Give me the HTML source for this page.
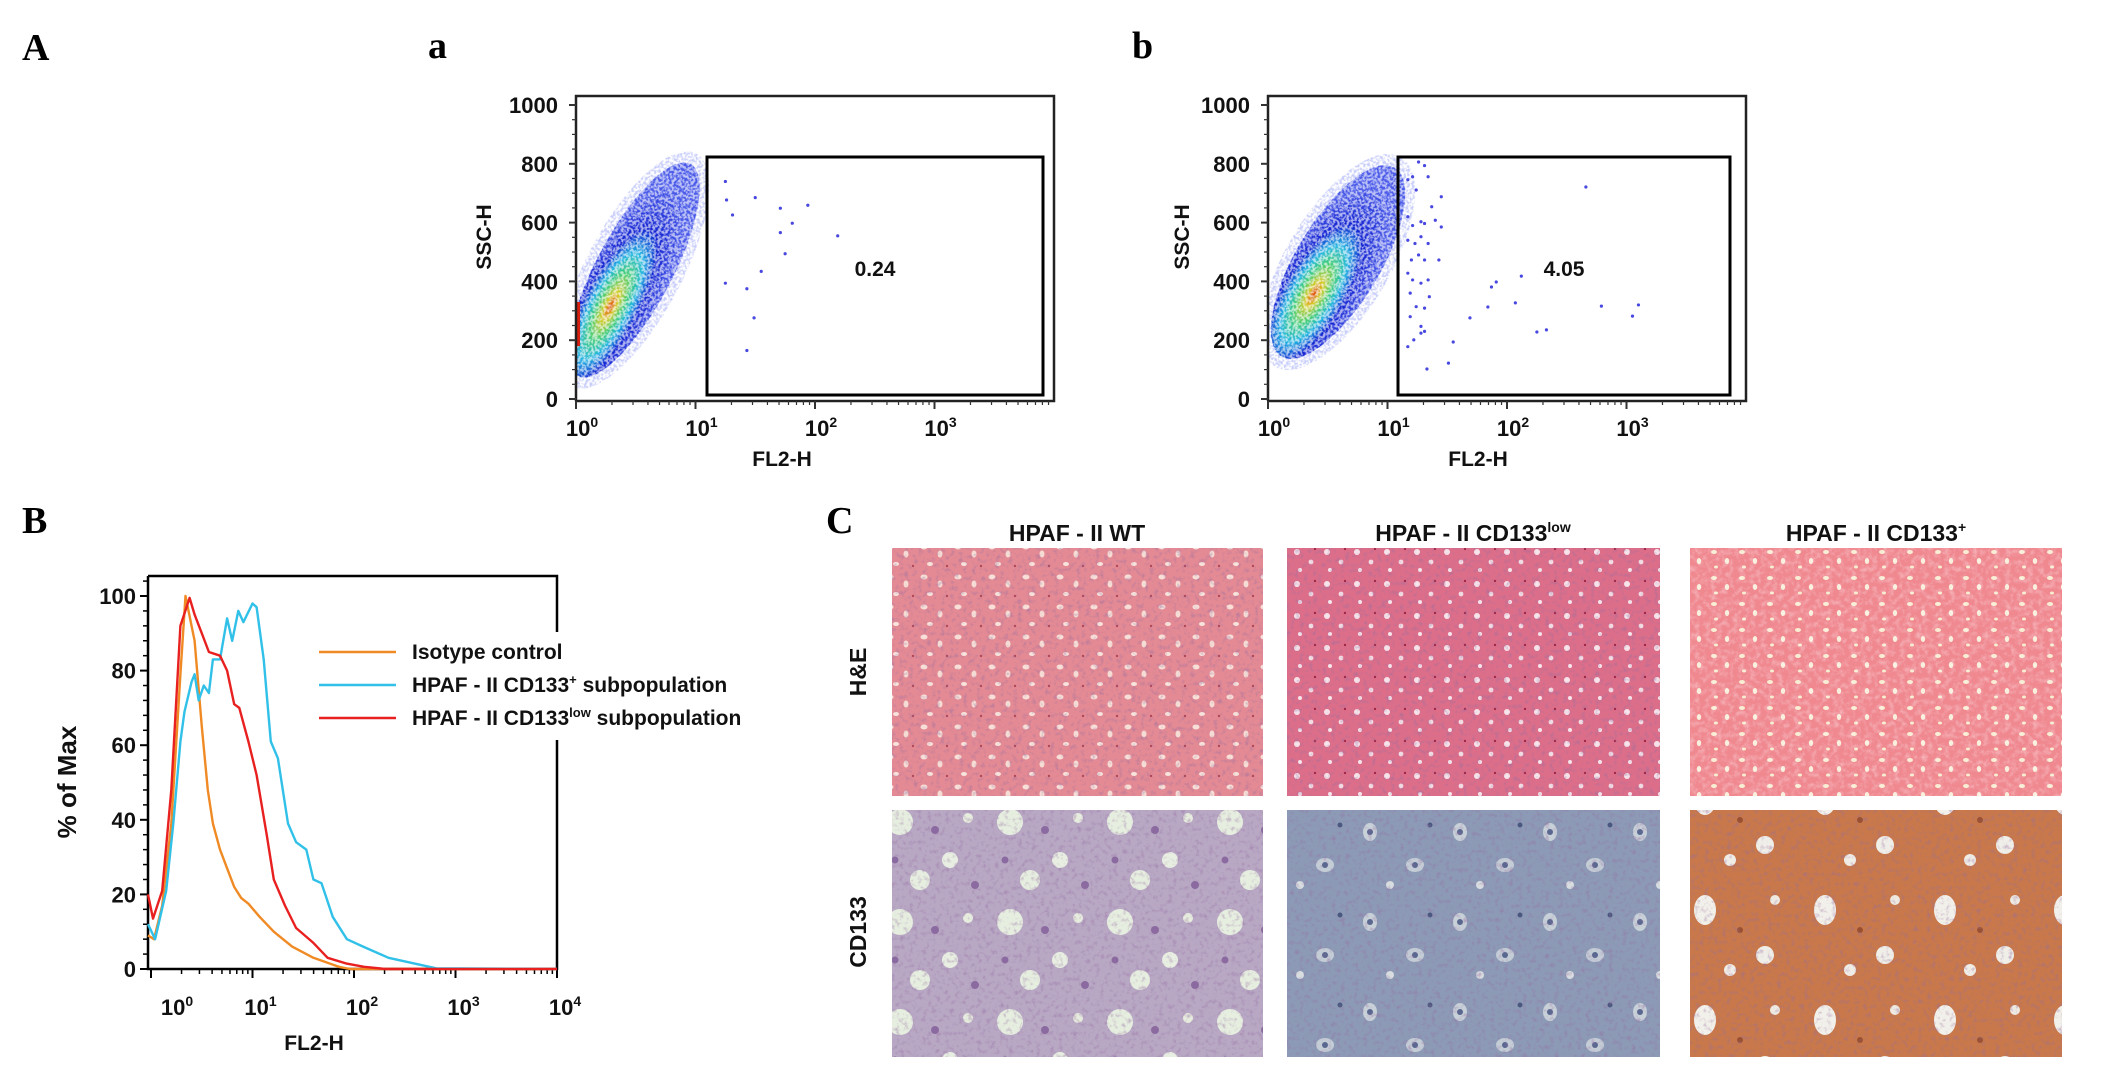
<!DOCTYPE html>
<html><head><meta charset="utf-8"><style>
html,body{margin:0;padding:0;background:#fff;width:2126px;height:1071px;overflow:hidden}
svg{display:block}
.lab{font-family:"Liberation Serif",serif;font-weight:bold;font-size:38px}
.tk{font-family:"Liberation Sans Narrow","Liberation Sans",sans-serif;font-weight:bold;font-size:22px;fill:#111}
.at{font-family:"Liberation Sans",sans-serif;font-weight:bold;font-size:21px;fill:#111}
.lg{font-family:"Liberation Sans",sans-serif;font-weight:bold;font-size:21px;fill:#111}
.ti{font-family:"Liberation Sans",sans-serif;font-weight:bold;font-size:23px;fill:#111}
</style></head><body>
<svg id="fig" width="2126" height="1071" viewBox="0 0 2126 1071" xmlns="http://www.w3.org/2000/svg">
<defs>
 <filter id="speck" x="0" y="0" width="100%" height="100%">
  <feTurbulence type="fractalNoise" baseFrequency="0.4" numOctaves="2" seed="3" result="n"/>
  <feColorMatrix in="n" type="matrix" values="0 0 0 0 1  0 0 0 0 1  0 0 0 0 1  0 0 0 -4 2.4" result="m"/>
  <feComposite in="SourceGraphic" in2="m" operator="in"/>
 </filter>
 <filter id="tex" x="0" y="0" width="100%" height="100%">
  <feTurbulence type="fractalNoise" baseFrequency="0.18" numOctaves="3" seed="7" result="n"/>
  <feColorMatrix in="n" type="matrix" values="0 0 0 0 1  0 0 0 0 1  0 0 0 0 1  0 0 0 1.2 -0.5"/>
 </filter>
 <filter id="texd" x="0" y="0" width="100%" height="100%">
  <feTurbulence type="fractalNoise" baseFrequency="0.22" numOctaves="3" seed="11" result="n"/>
  <feColorMatrix in="n" type="matrix" values="0 0 0 0 0.3  0 0 0 0 0.15  0 0 0 0 0.35  0 0 0 1.2 -0.6"/>
 </filter>
 <radialGradient id="cloudG" cx="0.45" cy="0.68" r="0.55">
  <stop offset="0" stop-color="#e85010"/>
  <stop offset="0.12" stop-color="#d8d020"/>
  <stop offset="0.28" stop-color="#40d070"/>
  <stop offset="0.45" stop-color="#20b8e0"/>
  <stop offset="0.65" stop-color="#1020d0"/>
  <stop offset="1" stop-color="#4858e8"/>
 </radialGradient>
 <pattern id="heA" width="34" height="30" patternUnits="userSpaceOnUse"><ellipse cx="6" cy="7" rx="3.5" ry="2.5" fill="#f8e0d8"/><ellipse cx="22" cy="14" rx="2.5" ry="3.5" fill="#f5dcd4"/><ellipse cx="12" cy="24" rx="3" ry="2" fill="#f8e4dc"/><circle cx="29" cy="26" r="1.2" fill="#b04858"/></pattern>
 <pattern id="heB" width="30" height="32" patternUnits="userSpaceOnUse"><circle cx="7" cy="8" r="3" fill="#f6e4ea"/><circle cx="21" cy="18" r="2.4" fill="#f2dce4"/><circle cx="10" cy="26" r="2" fill="#f6e6ec"/><circle cx="25" cy="5" r="1.2" fill="#a02848"/></pattern>
 <pattern id="heC" width="28" height="26" patternUnits="userSpaceOnUse"><ellipse cx="6" cy="6" rx="3" ry="2" fill="#f8eed4"/><ellipse cx="19" cy="15" rx="2.2" ry="3" fill="#f8f0dc"/><ellipse cx="8" cy="21" rx="2" ry="1.5" fill="#f6eed0"/></pattern>
 <pattern id="cdA" width="110" height="100" patternUnits="userSpaceOnUse"><circle cx="20" cy="22" r="13" fill="#e6eee0"/><circle cx="70" cy="60" r="8" fill="#e8efe2"/><circle cx="88" cy="18" r="5" fill="#e6ecde"/><circle cx="40" cy="80" r="10" fill="#e6eee0"/><circle cx="55" cy="30" r="4" fill="#8a6aa0"/><circle cx="95" cy="85" r="4" fill="#8a6aa0"/><circle cx="15" cy="60" r="3.5" fill="#8a6aa0"/></pattern>
 <pattern id="cdB" width="90" height="90" patternUnits="userSpaceOnUse"><ellipse cx="20" cy="22" rx="7" ry="9" fill="#c8d0d8"/><circle cx="20" cy="22" r="3" fill="#5a6890"/><ellipse cx="65" cy="55" rx="9" ry="7" fill="#c4ccd6"/><circle cx="65" cy="55" r="3" fill="#5a6890"/><circle cx="40" cy="75" r="4" fill="#d8dde0"/><circle cx="80" cy="15" r="2.5" fill="#4a5880"/></pattern>
 <pattern id="cdC" width="120" height="110" patternUnits="userSpaceOnUse"><ellipse cx="25" cy="30" rx="11" ry="15" fill="#f2f0ea"/><circle cx="85" cy="75" r="9" fill="#f0eee8"/><circle cx="95" cy="20" r="5" fill="#eeeae2"/><circle cx="50" cy="90" r="6" fill="#f0ece6"/><circle cx="60" cy="50" r="3" fill="#9a5030"/></pattern>
</defs>

<text class="lab" x="22" y="60">A</text>
<text class="lab" x="428" y="58">a</text>
<text class="lab" x="1132" y="58">b</text>
<text class="lab" x="22" y="533">B</text>
<text class="lab" x="826" y="533">C</text>

<g id="scatA"></g>
<g id="scatB"></g>
<g id="hist"></g>

<g>
 <text class="ti" x="1077" y="541" text-anchor="middle">HPAF - II WT</text>
 <text class="ti" x="1473" y="541" text-anchor="middle">HPAF - II CD133<tspan font-size="14" dy="-9">low</tspan></text>
 <text class="ti" x="1876" y="541" text-anchor="middle">HPAF - II CD133<tspan font-size="14" dy="-9">+</tspan></text>
 <text class="ti" transform="translate(866,672) rotate(-90)" text-anchor="middle">H&amp;E</text>
 <text class="ti" transform="translate(866,932) rotate(-90)" text-anchor="middle">CD133</text>
 <g><rect x="892" y="548" width="371" height="248" fill="#e48a94"/><rect x="892" y="548" width="371" height="248" fill="url(#heA)"/><rect x="892" y="548" width="371" height="248" filter="url(#texd)"/></g>
 <g><rect x="1287" y="548" width="373" height="248" fill="#dc6e8a"/><rect x="1287" y="548" width="373" height="248" fill="url(#heB)"/><rect x="1287" y="548" width="373" height="248" filter="url(#texd)"/></g>
 <g><rect x="1690" y="548" width="372" height="248" fill="#f08890"/><rect x="1690" y="548" width="372" height="248" fill="url(#heC)"/><rect x="1690" y="548" width="372" height="248" filter="url(#tex)" opacity="0.6"/></g>
 <g><rect x="892" y="810" width="371" height="247" fill="#b8a8c4"/><rect x="892" y="810" width="371" height="247" fill="url(#cdA)"/><rect x="892" y="810" width="371" height="247" filter="url(#texd)"/></g>
 <g><rect x="1287" y="810" width="373" height="247" fill="#8c9ab6"/><rect x="1287" y="810" width="373" height="247" fill="url(#cdB)"/><rect x="1287" y="810" width="373" height="247" filter="url(#texd)"/></g>
 <g><rect x="1690" y="810" width="372" height="247" fill="#c8784a"/><rect x="1690" y="810" width="372" height="247" fill="url(#cdC)"/><rect x="1690" y="810" width="372" height="247" filter="url(#texd)"/></g>
</g>
</svg>
<script>
// ---------- Histogram data (x = log10 FL2-H, y = % of Max) ----------
const isoX  = [-0.03,0.03,0.11,0.20,0.29,0.34,0.43,0.50,0.56,0.61,0.68,0.75,0.82,0.89,0.96,1.07,1.21,1.39,1.60,1.85,1.96,4.0];
const isoY  = [9,8,17,39,79,100,88,65,48,39,32,27,22,19,17.5,14,10,6,3,0.6,0,0];
const lowX  = [-0.03,0.02,0.11,0.20,0.29,0.38,0.43,0.50,0.57,0.68,0.75,0.82,0.87,0.96,1.04,1.14,1.21,1.32,1.43,1.60,1.74,1.92,2.10,2.31,4.0];
const lowY  = [20,13.5,21,48,92,99.5,95,90,85,84,80,71,70,61,52,36,24,17,11,7,3,1.5,0.6,0,0];
const posX  = [-0.03,0.04,0.15,0.22,0.29,0.33,0.40,0.43,0.47,0.52,0.57,0.61,0.68,0.75,0.80,0.86,0.91,1.00,1.04,1.11,1.18,1.25,1.35,1.43,1.53,1.60,1.68,1.79,1.93,2.09,2.34,2.81,4.0];
const posY  = [12,8,21,39,61,69,77,79,72,76,74,83,83,94,88,96,93,98,97,83,61,56.5,39,34,32,24,23,14,8,6,3,0.2,0];
const histYTicks = [0,20,40,60,80,100];
const histXDecades = [0,1,2,3,4];
const legendLabels = ["Isotype control","HPAF - II CD133","HPAF - II CD133"];
const legendSups = ["","+","low"];
const legendColors = ["#f08a24","#30c0e8","#e82020"];

// ---------- Scatter data (x = log10 FL2-H, y = SSC-H) ----------
const gateAX = [1.25,1.26,1.31,1.50,1.71,1.81,1.94,1.71,1.75,2.19,1.55,1.25,1.43,1.49,1.43];
const gateAY = [740,677,626,685,649,598,659,566,494,555,434,394,375,276,165];
const gateBX = [2.66,2.12,1.91,1.87,1.84,2.07,2.25,2.33,2.79,3.10,3.05,1.69,1.55,1.51,1.33,
  1.17,1.21,1.26,1.31,1.34,1.24,1.17,1.21,1.28,1.31,1.37,1.45,1.40,1.45,1.17,1.23,1.28,1.34,1.20,1.26,1.31,1.43,1.17,1.21,1.28,1.34,1.19,1.24,1.31,1.35,1.19,1.28,1.22,1.28,1.17,1.31];
const gateBY = [721,418,398,381,313,327,228,235,316,320,282,276,194,122,102,
  746,756,806,794,756,711,620,590,603,597,654,688,608,585,540,529,552,529,473,490,473,473,428,405,394,405,360,314,309,348,280,247,201,224,178,230];
const gatePctA = "0.24", gatePctB = "4.05";
const ssTicks = [0,200,400,600,800,1000];
const ssDecades = [0,1,2,3];

const NS="http://www.w3.org/2000/svg";
function mk(tag,attrs,parent){const e=document.createElementNS(NS,tag);for(const k in attrs)e.setAttribute(k,attrs[k]);parent.appendChild(e);return e;}

(function(){
 const g=document.getElementById('hist');
 const X0=151, DEC=101.5, Y0=969, PY=3.73, L=148, R=557, T=576;
 const xs=l=>X0+l*DEC, ys=v=>Y0-v*PY;
 const ax=mk('path',{d:`M${L},${T} L${L},${Y0} L${R},${Y0} L${R},740 M${R},632 L${R},${T} L${L},${T}`,fill:'none',stroke:'#000','stroke-width':2.5},g);
 
 
 for(let v=0;v<=104;v+=4){const maj=v%20===0;mk('line',{x1:L-(maj?8:5),x2:L,y1:ys(v),y2:ys(v),stroke:'#000','stroke-width':maj?2:1.5},g);}
 histYTicks.forEach(v=>{const t=mk('text',{x:L-12,y:ys(v)+8,'text-anchor':'end',class:'tk'},g);t.textContent=v;
  
  });
 for(let d=-1;d<4;d++)for(let k=1;k<10;k++){const l=d+Math.log10(k);const x=xs(l);if(x<L||x>R)continue;mk('line',{x1:x,x2:x,y1:Y0,y2:Y0+(k===1?9:5),stroke:'#000','stroke-width':k===1?2:1.5},g);}
 mk('line',{x1:xs(4),x2:xs(4),y1:Y0,y2:Y0+9,stroke:'#000','stroke-width':2},g);
 histXDecades.forEach(d=>{const t=mk('text',{x:xs(d)+(d===0?26:8),y:Y0+46,'text-anchor':'middle',class:'tk'},g);t.textContent='10';
  const s=mk('tspan',{dy:-9,'font-size':14},t);s.textContent=d;
  
  });
 const xt=mk('text',{x:314,y:1050,'text-anchor':'middle',class:'at'},g);xt.textContent='FL2-H';
 
 
 const yt=mk('text',{transform:'translate(76,782) rotate(-90)','text-anchor':'middle',class:'at'},g);yt.textContent='% of Max';yt.setAttribute('style','font-size:26px');
 
 
 function line(X,Y,c,name){let d='';X.forEach((l,i)=>{d+=(i?'L':'M')+Math.min(xs(l),R).toFixed(1)+','+ys(Y[i]).toFixed(1);});
  const p=mk('path',{d,fill:'none',stroke:c,'stroke-width':2.4,'stroke-linejoin':'round'},g);
  
  }
 line(isoX,isoY,legendColors[0],'isotype-control-curve');
 line(posX,posY,legendColors[1],'cd133-positive-curve');
 line(lowX,lowY,legendColors[2],'cd133-low-curve');
 const ly=[652,685,718];
 legendLabels.forEach((lab,i)=>{
  const le=mk('g',{},g);
  
  
  mk('line',{x1:319,x2:396,y1:ly[i],y2:ly[i],stroke:legendColors[i],'stroke-width':2.6},le);
  const t=mk('text',{x:412,y:ly[i]+7,class:'lg'},le);t.textContent=lab;
  if(legendSups[i]){const s=mk('tspan',{dy:-8,'font-size':13},t);s.textContent=legendSups[i];const r=mk('tspan',{dy:8},t);r.textContent=' subpopulation';}
 });
})();

function scatter(id,L,gx0,gx1,gpX,gpY,pct,cloud,labX,sscX,red){
 const g=document.getElementById(id);
 const DEC=119.5, Y0=399, PY=0.294, T=96, R=L+478;
 const xs=l=>L+l*DEC, ys=v=>Y0-v*PY;
 const clip=mk('clipPath',{id:id+'clip'},g);
 mk('rect',{x:L,y:T,width:R-L,height:Y0-T},clip);
 const c=mk('g',{transform:`translate(${cloud[0]},${cloud[1]}) rotate(${cloud[2]})`},mk('g',{'clip-path':`url(#${id}clip)`},g));
 
 
 mk('ellipse',{cx:0,cy:0,rx:cloud[3]+10,ry:cloud[4]+12,fill:'#6070f0',opacity:0.35,filter:'url(#speck)'},c);
 mk('ellipse',{cx:0,cy:0,rx:cloud[3],ry:cloud[4],fill:'url(#cloudG)',filter:'url(#speck)'},c);
 mk('ellipse',{cx:0,cy:0,rx:cloud[3],ry:cloud[4],fill:'url(#cloudG)',opacity:0.35},c);
 if(red)mk('line',{x1:L+2,x2:L+2,y1:ys(330),y2:ys(180),stroke:'#d82010','stroke-width':4},g);
 gpX.forEach((l,i)=>{const d=mk('circle',{cx:xs(l),cy:ys(gpY[i]),r:1.6,fill:'#4848e0'},g);
  
  });
 const ax=mk('path',{d:`M${L},${Y0+2} L${L},${T} L${R},${T} L${R},${Y0+2} L${L},${Y0+2}`,fill:'none',stroke:'#222','stroke-width':2.5},g);
 
 
 const gate=mk('rect',{x:gx0,y:157,width:gx1-gx0,height:238,fill:'none',stroke:'#000','stroke-width':3},g);
 
 
 const pt=mk('text',{x:gx0+(gx1-gx0)*0.5,y:276,'text-anchor':'middle',class:'tk',style:'font-size:21px'},g);pt.textContent=pct;
 
 
 for(let v=0;v<=1000;v+=50){const maj=v%200===0;mk('line',{x1:L-(maj?7:4),x2:L,y1:ys(v),y2:ys(v),stroke:'#333','stroke-width':maj?2:1.2},g);}
 ssTicks.forEach(v=>{const t=mk('text',{x:L-18,y:ys(v)+8,'text-anchor':'end',class:'tk'},g);t.textContent=v;
  
  });
 for(let d=0;d<4;d++)for(let k=1;k<10;k++){const x=xs(d+Math.log10(k));if(x>R)continue;mk('line',{x1:x,x2:x,y1:Y0+2,y2:Y0+(k===1?10:6),stroke:'#333','stroke-width':k===1?2:1.2},g);}
 ssDecades.forEach(d=>{const t=mk('text',{x:xs(d)+6,y:436,'text-anchor':'middle',class:'tk'},g);t.textContent='10';
  const s=mk('tspan',{dy:-9,'font-size':14},t);s.textContent=d;
  
  });
 const xt=mk('text',{x:labX,y:466,'text-anchor':'middle',class:'at'},g);xt.textContent='FL2-H';
 
 
 const yt=mk('text',{transform:`translate(${sscX},237) rotate(-90)`,'text-anchor':'middle',class:'at'},g);yt.textContent='SSC-H';
 
 
}
scatter('scatA',576,707,1043,gateAX,gateAY,gatePctA,[634,270,28,38,120],782,491,true);
scatter('scatB',1268,1398,1730,gateBX,gateBY,gatePctB,[1338,262,31,42,110],1478,1189,false);
</script>
</body></html>
